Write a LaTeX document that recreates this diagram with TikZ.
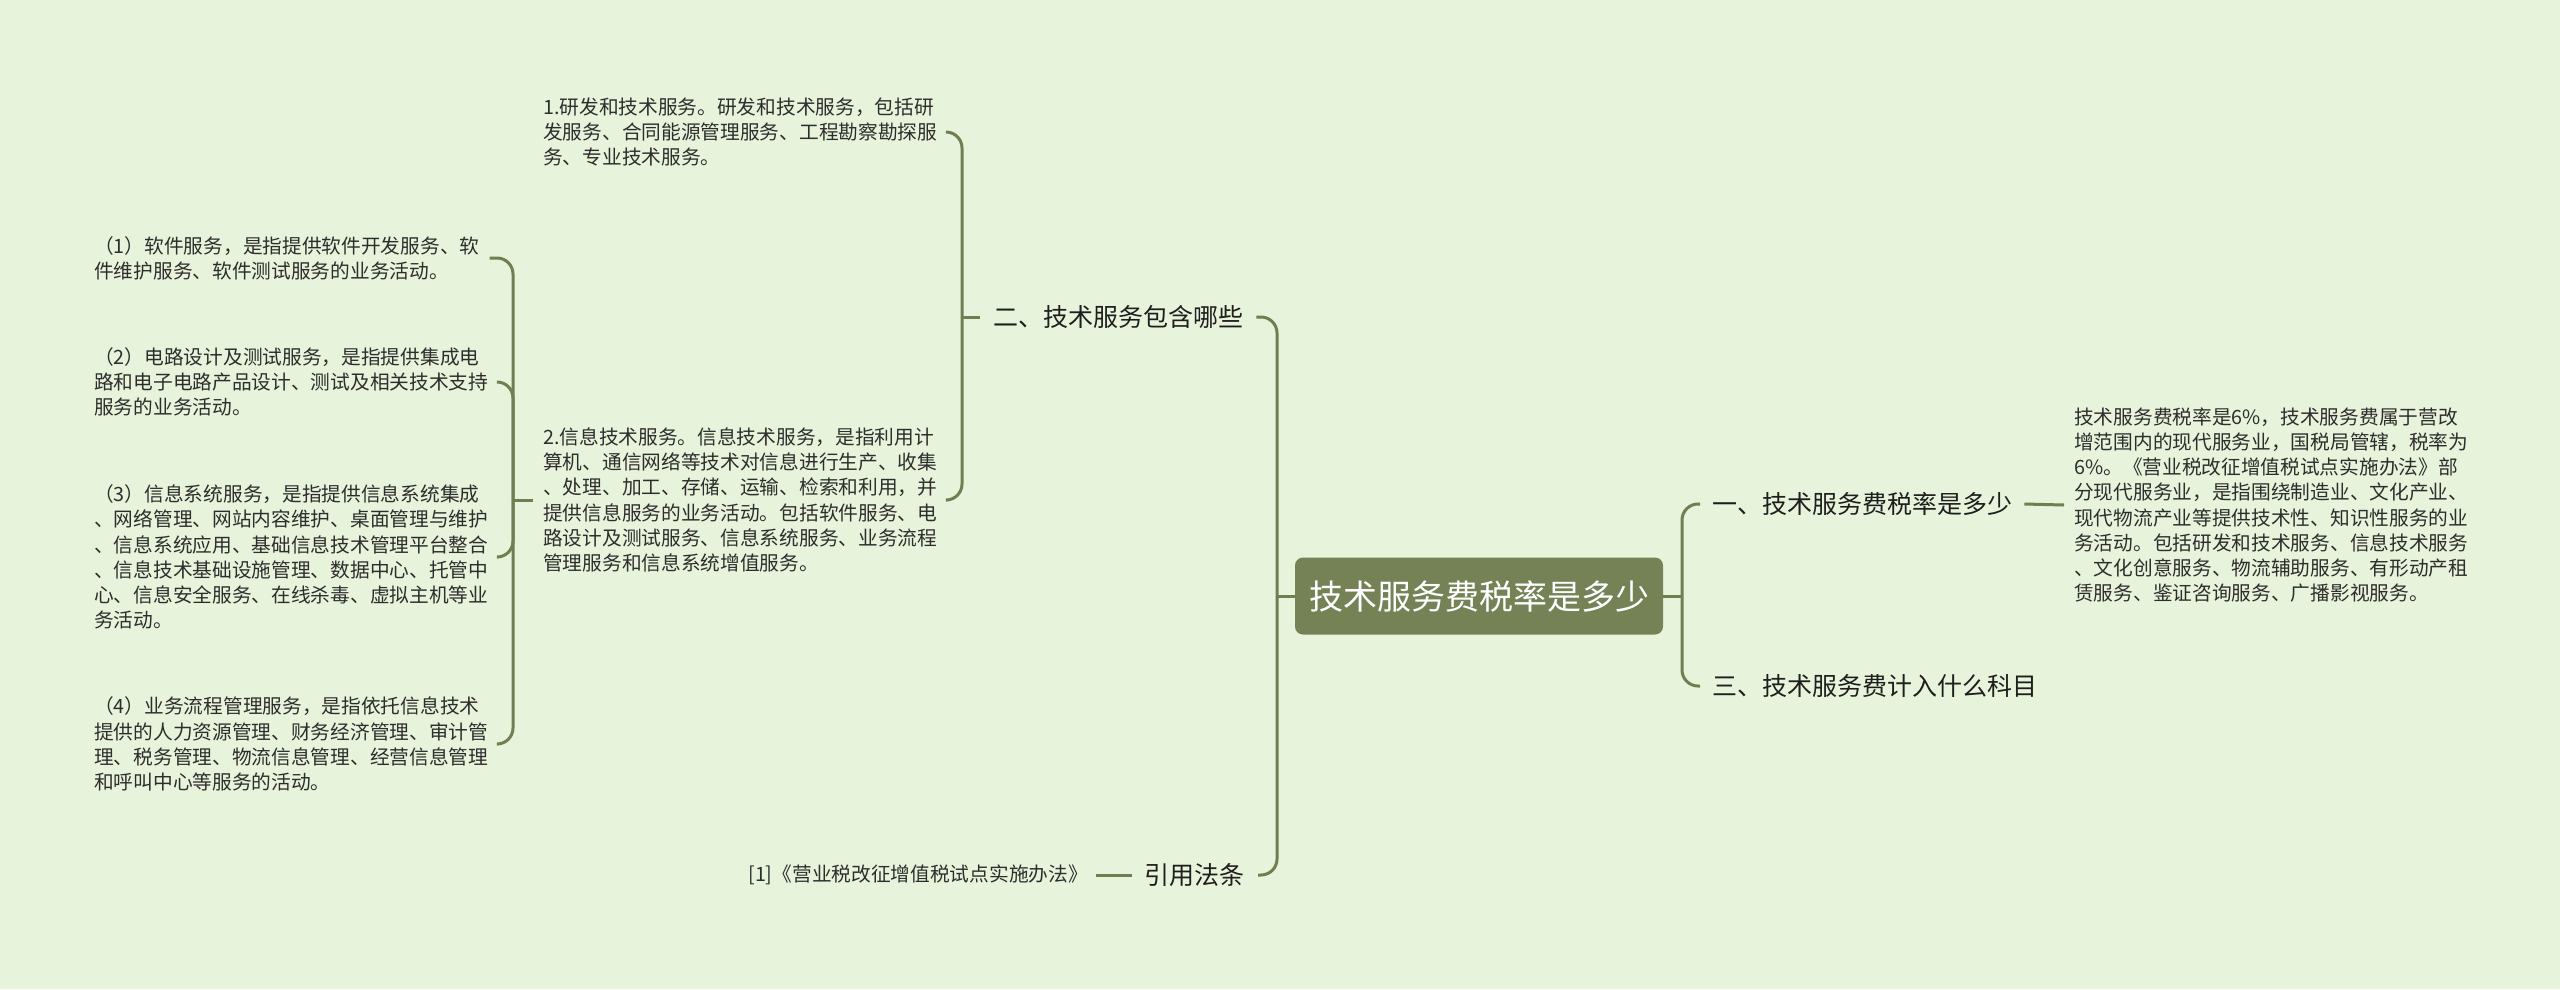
\documentclass[tikz,border=0pt]{standalone}
\usepackage{fontspec}
\setmainfont{Noto Sans CJK SC}
\definecolor{bg}{RGB}{231,244,219}
\definecolor{ln}{RGB}{112,126,82}
\definecolor{rootfill}{RGB}{116,130,85}
\definecolor{txt}{RGB}{45,45,45}
\definecolor{htxt}{RGB}{30,30,30}
\begin{document}
\begin{tikzpicture}[x=1pt,y=-1pt,
  conn/.style={draw=ln,line width=3pt,rounded corners=16pt},
  rootbox/.style={fill=rootfill,rounded corners=8pt,minimum width=368pt,minimum height=77pt,inner sep=0pt,text=white,font=\fontsize{34pt}{38pt}\selectfont},
  head/.style={inner xsep=13pt,inner ysep=2pt,text=htxt,font=\fontsize{25pt}{30pt}\selectfont},
  small/.style={inner xsep=10pt,inner ysep=2pt,text=txt,align=left,font=\fontsize{19.7pt}{25.2pt}\selectfont}]
\fill[bg] (0,0) rectangle (2560,989);
\useasboundingbox (0,0) rectangle (2560,989);

\node[rootbox] (root) at (1479,596) {技术服务费税率是多少};
\coordinate (tL) at (1277,596);
\coordinate (tR) at (1682,596);

\node[head,anchor=west] (h2) at (980,317) {二、技术服务包含哪些};
\node[head,anchor=east] (href) at (1258,875) {引用法条};
\node[head,anchor=west,inner xsep=12pt] (h1) at (1700,504) {一、技术服务费税率是多少};
\node[head,anchor=west,inner xsep=12pt] (h3) at (1700,686) {三、技术服务费计入什么科目};

\node[small,anchor=east,inner xsep=8pt] (ref) at (1096,875) {[1]《营业税改征增值税试点实施办法》};

\node[small,anchor=west] (C) at (2064,505) {技术服务费税率是6\%，技术服务费属于营改\\增范围内的现代服务业，国税局管辖，税率为\\6\%。《营业税改征增值税试点实施办法》部\\分现代服务业，是指围绕制造业、文化产业、\\现代物流产业等提供技术性、知识性服务的业\\务活动。包括研发和技术服务、信息技术服务\\、文化创意服务、物流辅助服务、有形动产租\\赁服务、鉴证咨询服务、广播影视服务。};

\node[small,anchor=west] (A1) at (533,132) {1.研发和技术服务。研发和技术服务，包括研\\发服务、合同能源管理服务、工程勘察勘探服\\务、专业技术服务。};
\node[small,anchor=west] (A2) at (533,500) {2.信息技术服务。信息技术服务，是指利用计\\算机、通信网络等技术对信息进行生产、收集\\、处理、加工、存储、运输、检索和利用，并\\提供信息服务的业务活动。包括软件服务、电\\路设计及测试服务、信息系统服务、业务流程\\管理服务和信息系统增值服务。};

\node[small,anchor=west] (B1) at (84,258) {（1）软件服务，是指提供软件开发服务、软\\件维护服务、软件测试服务的业务活动。};
\node[small,anchor=west] (B2) at (84,382) {（2）电路设计及测试服务，是指提供集成电\\路和电子电路产品设计、测试及相关技术支持\\服务的业务活动。};
\node[small,anchor=west] (B3) at (84,557) {（3）信息系统服务，是指提供信息系统集成\\、网络管理、网站内容维护、桌面管理与维护\\、信息系统应用、基础信息技术管理平台整合\\、信息技术基础设施管理、数据中心、托管中\\心、信息安全服务、在线杀毒、虚拟主机等业\\务活动。};
\node[small,anchor=west] (B4) at (84,744) {（4）业务流程管理服务，是指依托信息技术\\提供的人力资源管理、财务经济管理、审计管\\理、税务管理、物流信息管理、经营信息管理\\和呼叫中心等服务的活动。};

\coordinate (c2) at ([xshift=-18pt]h2.west);
\coordinate (c3) at ([xshift=-20pt]A2.west);

% root connectors
\draw[conn] (root.west) -- (tL);
\draw[conn] (tL) |- (h2.east);
\draw[conn] (tL) |- (href.east);
\draw[conn] (root.east) -- (tR);
\draw[conn] (tR) |- (h1.west);
\draw[conn] (tR) |- (h3.west);
% level 2
\draw[conn] (h2.west) -- (c2);
\draw[conn] (c2) |- (A1.east);
\draw[conn] (c2) |- (A2.east);
\draw[conn] (A2.west) -- (c3);
\draw[conn] (c3) |- (B1.east);
\draw[conn] (c3) |- (B2.east);
\draw[conn] (c3) |- (B3.east);
\draw[conn] (c3) |- (B4.east);
\draw[conn] (h1.east) -- (C.west);
\draw[conn] (href.west) -- (ref.east);
\end{tikzpicture}
\end{document}
